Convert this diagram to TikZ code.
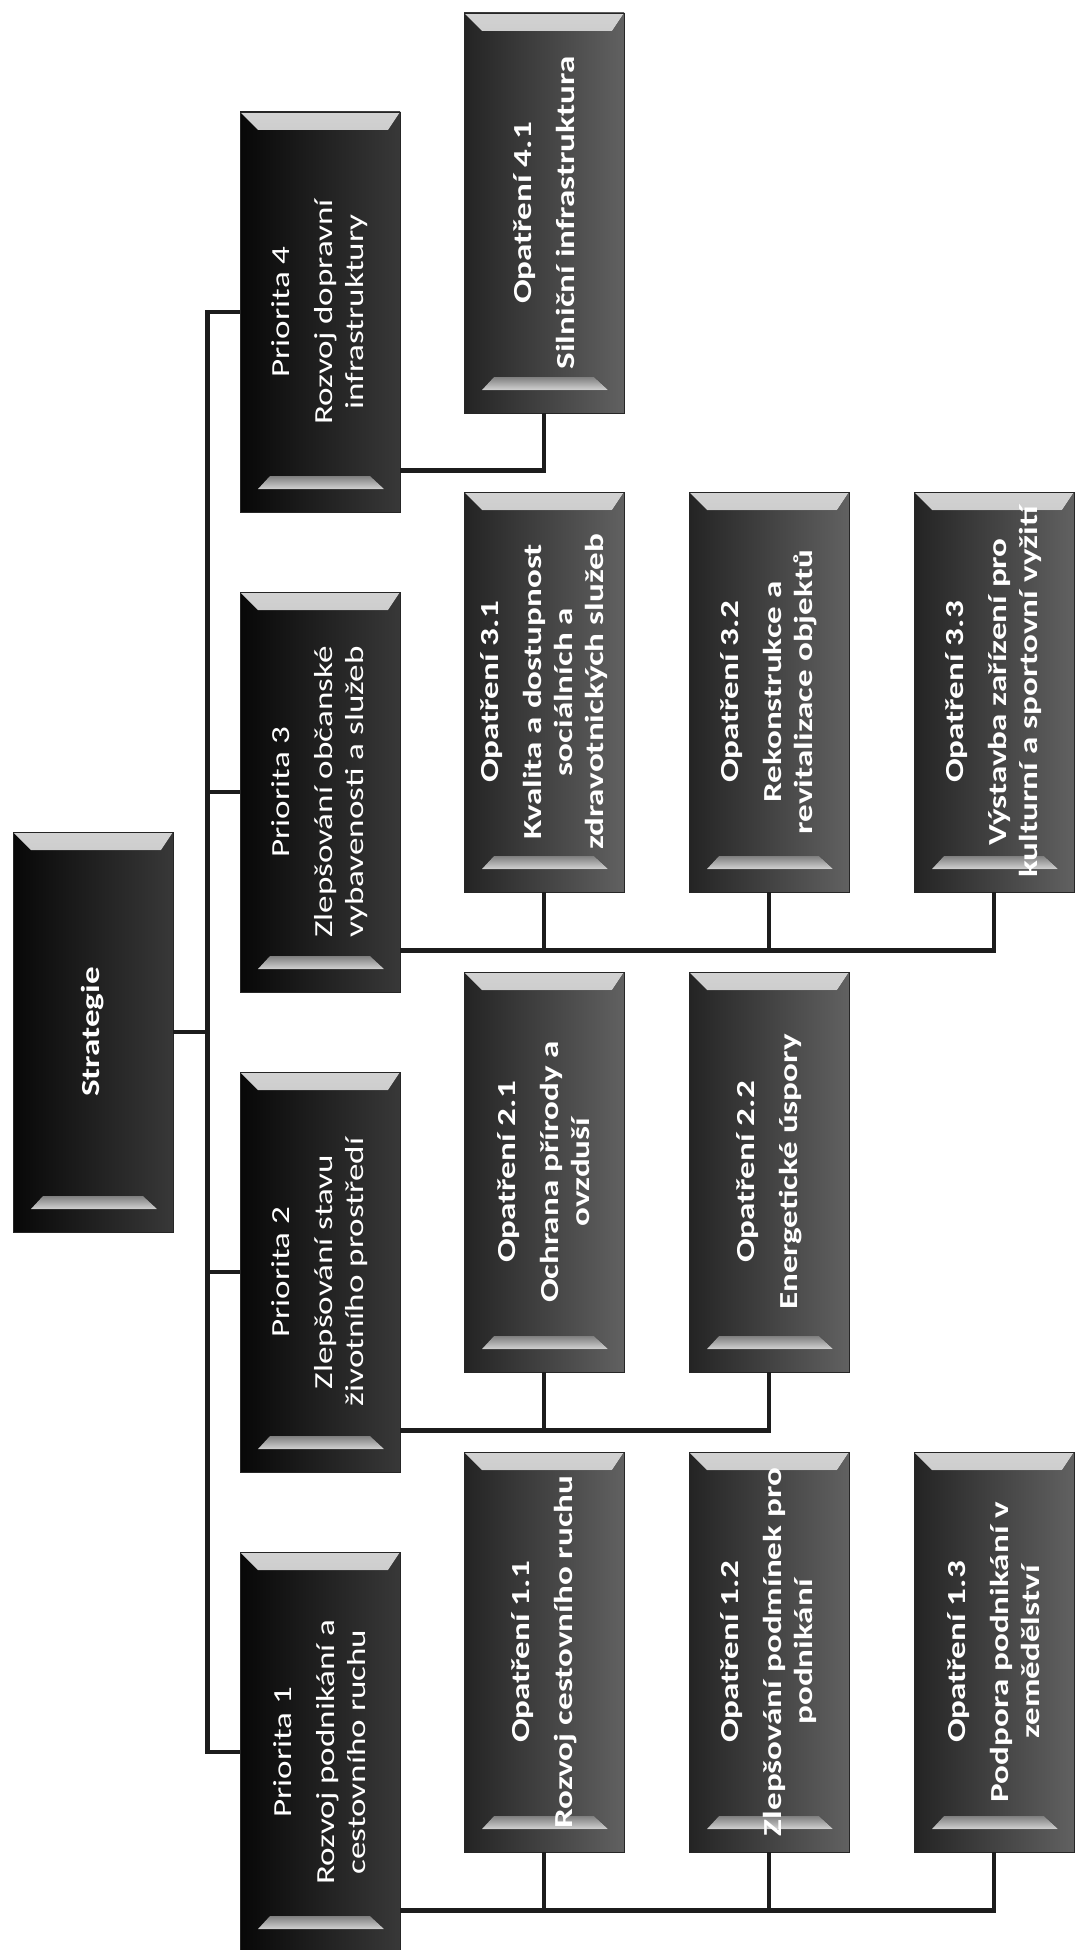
\documentclass[tikz,border=0pt]{standalone}
\usepackage{fontspec}
\setmainfont{Carlito}[FakeStretch=1.35]
\usetikzlibrary{positioning, calc}
\definecolor{bevel}{HTML}{D2D2D2}
\definecolor{wire}{HTML}{1C1C1C}

\begin{document}
\begin{tikzpicture}[x=1pt, y=-1pt,
  box/.style={rectangle, minimum width=160pt, minimum height=400pt,
    inner sep=0pt, draw=black!85, line width=0.8pt,
    path picture={
      % top bevel
      \fill[top color=bevel, bottom color=black!55]
        (path picture bounding box.north west) -- (path picture bounding box.north east)
        -- ([shift={(-12pt,-18pt)}]path picture bounding box.north east)
        -- ([shift={(18pt,-18pt)}]path picture bounding box.north west) -- cycle;
      % bottom bevel
      \fill[top color=black!50, bottom color=bevel]
        ([shift={(30pt,36pt)}]path picture bounding box.south west)
        -- ([shift={(-30pt,36pt)}]path picture bounding box.south east)
        -- ([shift={(-16pt,23pt)}]path picture bounding box.south east)
        -- ([shift={(18pt,23pt)}]path picture bounding box.south west) -- cycle;
    }},
  pbox/.style={box, left color=black!97, right color=black!78},
  mbox/.style={box, left color=black!86, right color=black!62},
  ptext/.style={rotate=90, align=center, text=white, font=\fontsize{26}{31}\selectfont},
  mtext/.style={ptext, font=\bfseries\fontsize{26}{31}\selectfont},
  wire/.style={draw=wire, line width=4.5pt}]

  \useasboundingbox (0,0) rectangle (1077,1950);

  \node[pbox, label={[mtext]center:Strategie}] (strat) at (93,1032) {};

  % priorities
  \node[pbox, label={[ptext]center:{Priorita 4\\[12pt]Rozvoj dopravní\\infrastruktury}}] (p4) at (320,312) {};
  \node[pbox, label={[ptext]center:{Priorita 3\\[12pt]Zlepšování občanské\\vybavenosti a služeb}}] (p3) at (320,792) {};
  \node[pbox, label={[ptext]center:{Priorita 2\\[12pt]Zlepšování stavu\\životního prostředí}}] (p2) at (320,1272) {};
  \node[pbox, label={[ptext]center:{Priorita 1\\[12pt]Rozvoj podnikání a\\cestovního ruchu}}] (p1) at (320,1752) {};

  % measures
  \node[mbox, label={[mtext]center:{Opatření 4.1\\[12pt]Silniční infrastruktura}}] (m41) at (544,213) {};

  \node[mbox, label={[mtext]center:{Opatření 3.1\\[12pt]Kvalita a dostupnost\\sociálních a\\zdravotnických služeb}}] (m31) at (544,692) {};
  \node[mbox, label={[mtext]center:{Opatření 3.2\\[12pt]Rekonstrukce a\\revitalizace objektů}}] (m32) at (769,692) {};
  \node[mbox, label={[mtext]center:{Opatření 3.3\\[12pt]Výstavba zařízení pro\\kulturní a sportovní vyžití}}] (m33) at (994,692) {};

  \node[mbox, label={[mtext]center:{Opatření 2.1\\[12pt]Ochrana přírody a\\ovzduší}}] (m21) at (544,1172) {};
  \node[mbox, label={[mtext]center:{Opatření 2.2\\[12pt]Energetické úspory}}] (m22) at (769,1172) {};

  \node[mbox, label={[mtext]center:{Opatření 1.1\\[12pt]Rozvoj cestovního ruchu}}] (m11) at (544,1652) {};
  \node[mbox, label={[mtext]center:{Opatření 1.2\\[12pt]Zlepšování podmínek pro\\podnikání}}] (m12) at (769,1652) {};
  \node[mbox, label={[mtext]center:{Opatření 1.3\\[12pt]Podpora podnikání v\\zemědělství}}] (m13) at (994,1652) {};

  % strategy to priorities
  \foreach \p in {p1,p2,p3,p4}
    \draw[wire] (strat.east) -- ++(34,0) |- (\p.west);

  % priorities to measures
  \foreach \p in {1,2,3,4}
    \coordinate (h\p) at ($(p\p.south east)+(0,-42)$);
  \draw[wire] (h4) -| (m41.south);
  \foreach \m in {m31,m32,m33}
    \draw[wire] (h3) -| (\m.south);
  \foreach \m in {m21,m22}
    \draw[wire] (h2) -| (\m.south);
  \foreach \m in {m11,m12,m13}
    \draw[wire] (h1) -| (\m.south);
\end{tikzpicture}
\end{document}
